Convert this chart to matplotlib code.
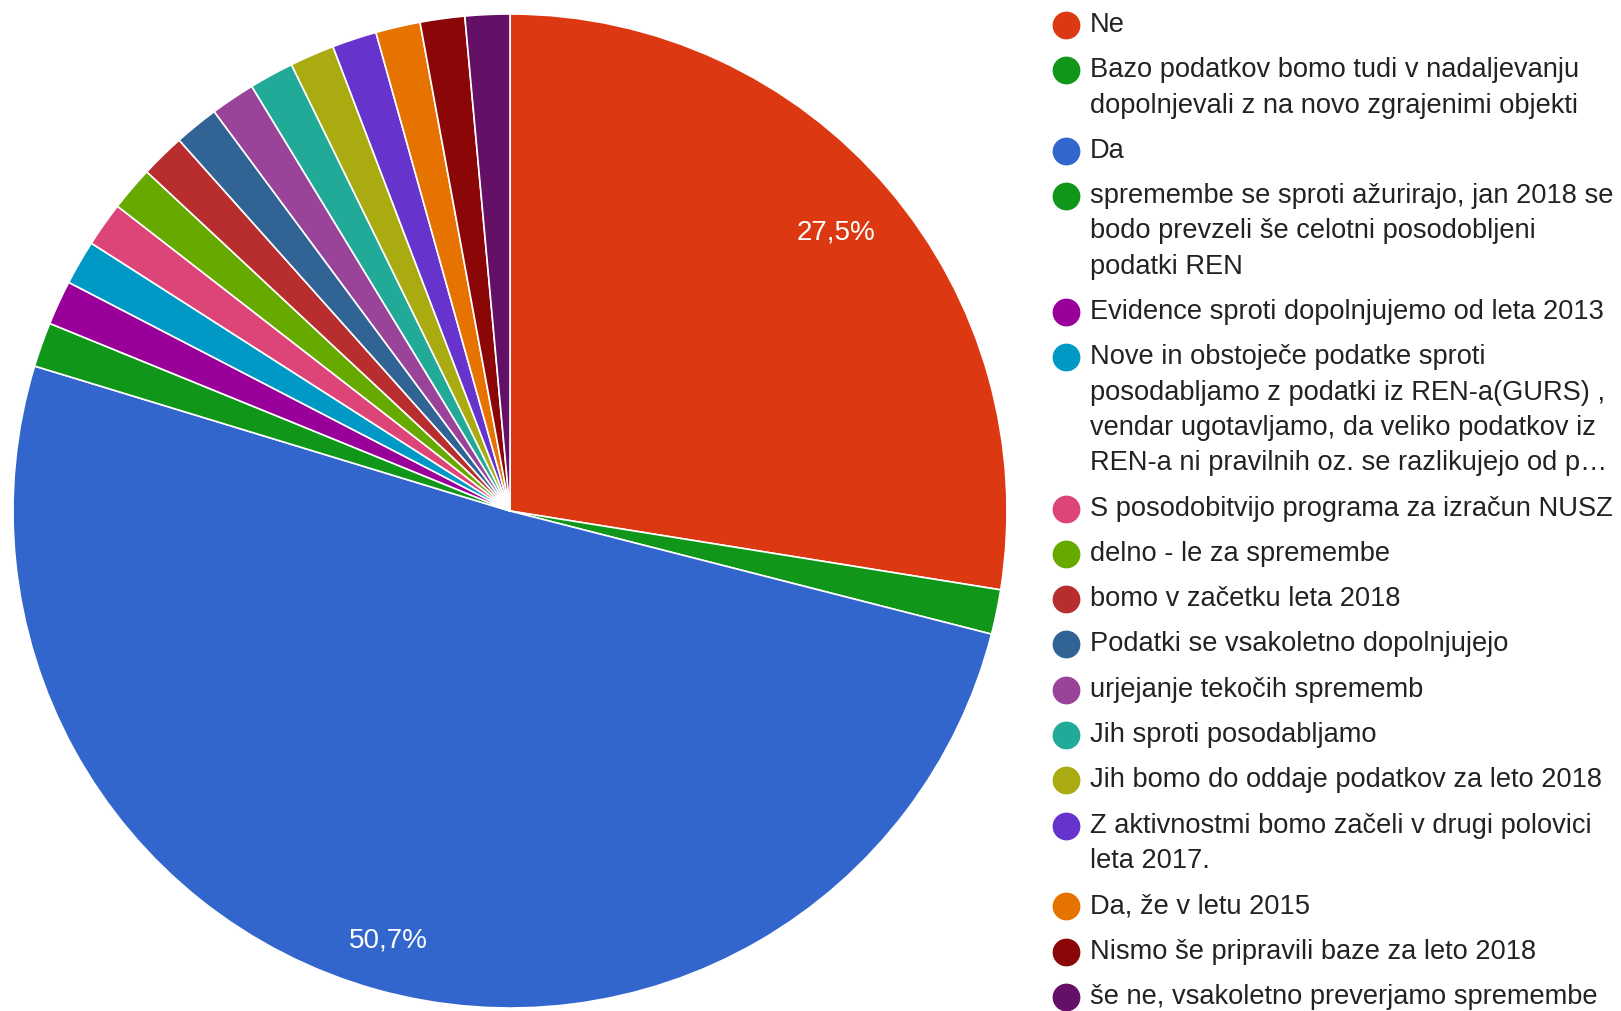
import matplotlib.pyplot as plt

plt.rcParams['font.family'] = ['Liberation Sans', 'DejaVu Sans']

# Odgovori (besedilo legende, prelomi vrstic kot v izvirniku)
odgovori = [
    "Ne",
    "Bazo podatkov bomo tudi v nadaljevanju\ndopolnjevali z na novo zgrajenimi objekti",
    "Da",
    "spremembe se sproti ažurirajo, jan 2018 se\nbodo prevzeli še celotni posodobljeni\npodatki REN",
    "Evidence sproti dopolnjujemo od leta 2013",
    "Nove in obstoječe podatke sproti\nposodabljamo z podatki iz REN-a(GURS) ,\nvendar ugotavljamo, da veliko podatkov iz\nREN-a ni pravilnih oz. se razlikujejo od p…",
    "S posodobitvijo programa za izračun NUSZ",
    "delno - le za spremembe",
    "bomo v začetku leta 2018",
    "Podatki se vsakoletno dopolnjujejo",
    "urjejanje tekočih sprememb",
    "Jih sproti posodabljamo",
    "Jih bomo do oddaje podatkov za leto 2018",
    "Z aktivnostmi bomo začeli v drugi polovici\nleta 2017.",
    "Da, že v letu 2015",
    "Nismo še pripravili baze za leto 2018",
    "še ne, vsakoletno preverjamo spremembe",
]
# število odgovorov (skupaj 69)
stevilo = [19, 1, 35, 1, 1, 1, 1, 1, 1, 1, 1, 1, 1, 1, 1, 1, 1]
barve = ["#dc3912", "#109618", "#3366cc", "#109618", "#990099", "#0099c6",
         "#dd4477", "#66aa00", "#b82e2e", "#316395", "#994499", "#22aa99",
         "#aaaa11", "#6633cc", "#e67300", "#8b0707", "#651067"]

W, H = 1621, 1011
fig = plt.figure(figsize=(W / 100, H / 100), dpi=100)

# Tortni diagram
cx, cy, r = 510, 500, 497
ax = fig.add_axes([(cx - r) / W, (cy - r) / H, 2 * r / W, 2 * r / H])


def oznaka(pct):
    if pct < 5:
        return ""
    return f"{pct:.1f}%".replace(".", ",")


_, _, procenti = ax.pie(stevilo, colors=barve, startangle=90, counterclock=False,
                        autopct=oznaka, pctdistance=0.88,
                        wedgeprops=dict(edgecolor="white", linewidth=1.2),
                        textprops=dict(color="white", fontsize=20))
# Google postavi oznake malo drugače kot matplotlib
procenti[0].set_position((0.655, 0.56))
procenti[2].set_position((-0.245, -0.865))
ax.set_xlim(-1, 1)
ax.set_ylim(-1, 1)
ax.set_aspect("equal")
ax.axis("off")

# Legenda (ročno, v pikslih)
lax = fig.add_axes([1030 / W, 0, (W - 1030) / W, 1])
lax.set_xlim(1030, W)
lax.set_ylim(H, 0)
lax.axis("off")

y = 25
for besedilo, barva in zip(odgovori, barve):
    lax.scatter([1066], [y], s=19 ** 2, color=barva, edgecolors=barva, zorder=3)
    for i, vrstica in enumerate(besedilo.split("\n")):
        lax.text(1090, y + i * 35.3, vrstica, fontsize=19.6, va="center",
                 ha="left", color="#222222")
    y += (len(besedilo.split("\n")) - 1) * 35.3 + 45.3

fig.savefig("out.png", dpi=100)
